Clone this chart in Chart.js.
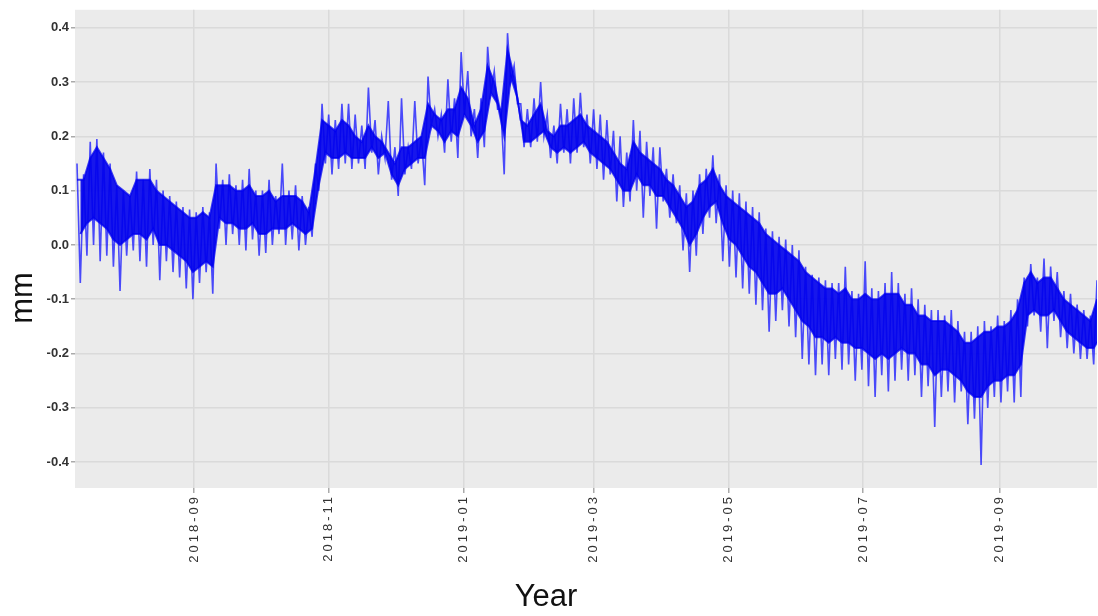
<!DOCTYPE html>
<html>
<head>
<meta charset="utf-8">
<script src="https://cdn.jsdelivr.net/npm/chart.js@4.4.1/dist/chart.umd.min.js"></script>
<style>
  html, body { margin:0; padding:0; background:#fff; }
  #wrap { position:relative; width:1098px; height:616px; }
</style>
</head>
<body>
<div id="wrap"><canvas id="chart" width="1098" height="616"></canvas></div>
<script>
// Una muestra cada 3 días desde la primera fecha
const firstDate = '2018-07-10';
const stepDays = 3;
// picos: máximo y mínimo de cada muestra
const hi = [
  0.15,0.13,0.19,0.195,0.17,0.15,0.11,0.10,0.09,0.135,
  0.12,0.14,0.12,0.10,0.09,0.08,0.07,0.065,0.06,0.07,
  0.06,0.15,0.12,0.13,0.11,0.12,0.14,0.10,0.10,0.12,
  0.09,0.15,0.10,0.11,0.09,0.07,0.15,0.26,0.24,0.23,
  0.26,0.26,0.24,0.22,0.29,0.23,0.20,0.265,0.18,0.27,
  0.18,0.265,0.20,0.31,0.25,0.24,0.305,0.27,0.355,0.32,
  0.25,0.27,0.365,0.32,0.25,0.39,0.33,0.26,0.25,0.27,
  0.30,0.24,0.22,0.26,0.25,0.27,0.28,0.24,0.25,0.24,
  0.23,0.21,0.20,0.17,0.23,0.21,0.19,0.18,0.18,0.14,
  0.13,0.11,0.095,0.10,0.13,0.14,0.165,0.13,0.11,0.10,
  0.095,0.08,0.07,0.06,0.03,0.025,0.015,0.01,0.0,-0.01,
  -0.04,-0.055,-0.06,-0.065,-0.07,-0.07,-0.04,-0.085,-0.09,-0.03,
  -0.08,-0.085,-0.07,-0.05,-0.07,-0.09,-0.08,-0.10,-0.11,-0.12,
  -0.12,-0.13,-0.12,-0.14,-0.16,-0.16,-0.15,-0.14,-0.15,-0.13,
  -0.14,-0.12,-0.10,-0.06,-0.035,-0.06,-0.025,-0.04,-0.05,-0.085,
  -0.09,-0.11,-0.12,-0.13,-0.065,-0.08
];
const lo = [
  -0.07,-0.02,0.00,-0.03,-0.02,-0.04,-0.085,-0.02,-0.01,-0.03,
  -0.04,0.0,-0.065,-0.03,-0.05,-0.06,-0.08,-0.10,-0.07,-0.05,
  -0.09,0.03,0.0,0.02,0.0,-0.01,0.01,-0.02,-0.015,0.0,
  0.02,0.0,0.01,-0.01,0.0,0.015,0.10,0.15,0.13,0.14,
  0.15,0.14,0.15,0.14,0.17,0.13,0.16,0.12,0.09,0.13,
  0.14,0.15,0.11,0.22,0.20,0.17,0.19,0.16,0.24,0.20,
  0.16,0.18,0.28,0.25,0.13,0.30,0.26,0.18,0.18,0.19,
  0.20,0.16,0.15,0.17,0.15,0.17,0.18,0.15,0.14,0.12,
  0.13,0.08,0.07,0.08,0.10,0.05,0.09,0.03,0.08,0.05,
  0.04,-0.01,-0.05,-0.02,0.02,0.05,0.04,-0.03,-0.04,-0.06,
  -0.08,-0.09,-0.11,-0.12,-0.16,-0.14,-0.12,-0.15,-0.17,-0.21,
  -0.22,-0.24,-0.22,-0.24,-0.21,-0.23,-0.22,-0.25,-0.23,-0.26,
  -0.28,-0.24,-0.27,-0.25,-0.23,-0.25,-0.24,-0.28,-0.26,-0.335,
  -0.28,-0.27,-0.29,-0.27,-0.33,-0.32,-0.405,-0.30,-0.28,-0.29,
  -0.27,-0.29,-0.28,-0.15,-0.13,-0.16,-0.19,-0.14,-0.17,-0.19,
  -0.20,-0.21,-0.21,-0.22,-0.18,-0.20
];
// núcleo denso de la señal: borde superior e inferior de cada muestra
const coreHi = [
  0.12,0.12,0.16,0.18,0.16,0.14,0.11,0.10,0.09,0.12,
  0.12,0.12,0.10,0.09,0.08,0.07,0.06,0.05,0.05,0.06,
  0.05,0.11,0.11,0.11,0.10,0.10,0.11,0.09,0.09,0.10,
  0.08,0.09,0.09,0.09,0.08,0.06,0.14,0.23,0.22,0.21,
  0.23,0.22,0.20,0.19,0.22,0.20,0.19,0.17,0.15,0.18,
  0.18,0.19,0.20,0.26,0.24,0.23,0.25,0.25,0.29,0.27,
  0.22,0.25,0.33,0.30,0.24,0.36,0.31,0.23,0.22,0.24,
  0.26,0.21,0.20,0.22,0.22,0.23,0.24,0.22,0.21,0.20,
  0.19,0.17,0.15,0.14,0.19,0.17,0.16,0.15,0.14,0.12,
  0.11,0.09,0.07,0.08,0.11,0.12,0.14,0.11,0.09,0.08,
  0.07,0.06,0.05,0.04,0.02,0.01,0.0,-0.01,-0.02,-0.03,
  -0.05,-0.06,-0.07,-0.08,-0.08,-0.09,-0.08,-0.10,-0.10,-0.09,
  -0.10,-0.10,-0.09,-0.09,-0.09,-0.11,-0.11,-0.13,-0.13,-0.14,
  -0.14,-0.14,-0.15,-0.16,-0.18,-0.18,-0.17,-0.16,-0.16,-0.15,
  -0.15,-0.14,-0.12,-0.07,-0.05,-0.07,-0.06,-0.06,-0.08,-0.10,
  -0.11,-0.12,-0.13,-0.14,-0.10,-0.10
];
const coreLo = [
  0.02,0.04,0.05,0.04,0.03,0.01,0.0,0.01,0.02,0.02,
  0.01,0.03,0.0,0.0,-0.01,-0.02,-0.03,-0.05,-0.04,-0.03,
  -0.04,0.05,0.04,0.04,0.03,0.03,0.04,0.02,0.02,0.03,
  0.03,0.03,0.04,0.03,0.02,0.03,0.11,0.17,0.16,0.16,
  0.17,0.16,0.16,0.16,0.18,0.16,0.17,0.13,0.11,0.14,
  0.15,0.16,0.16,0.22,0.21,0.19,0.21,0.20,0.24,0.22,
  0.19,0.21,0.28,0.26,0.20,0.31,0.27,0.19,0.19,0.20,
  0.21,0.18,0.17,0.18,0.17,0.18,0.19,0.17,0.16,0.15,
  0.14,0.12,0.10,0.10,0.13,0.11,0.11,0.09,0.09,0.07,
  0.05,0.03,0.0,0.02,0.05,0.07,0.08,0.04,0.01,0.0,
  -0.02,-0.04,-0.05,-0.07,-0.09,-0.09,-0.08,-0.10,-0.12,-0.14,
  -0.15,-0.17,-0.17,-0.18,-0.17,-0.18,-0.18,-0.19,-0.19,-0.20,
  -0.21,-0.20,-0.21,-0.20,-0.19,-0.20,-0.20,-0.22,-0.22,-0.24,
  -0.23,-0.23,-0.24,-0.25,-0.27,-0.28,-0.28,-0.26,-0.25,-0.25,
  -0.24,-0.24,-0.22,-0.13,-0.12,-0.13,-0.13,-0.12,-0.14,-0.16,
  -0.17,-0.18,-0.19,-0.19,-0.17,-0.17
];
const tickLabels = ['2018-09','2018-11','2019-01','2019-03','2019-05','2019-07','2019-09'];
const yTicks = [-0.4,-0.3,-0.2,-0.1,0.0,0.1,0.2,0.3,0.4];

// días contados desde 2018-07-01
const dayOf = s => {
  const p = s.split('-').map(Number);
  return (Date.UTC(p[0], p[1]-1, p[2] || 1) - Date.UTC(2018,6,1)) / 86400000;
};
const d0 = dayOf(firstDate);
const spikes = [];
hi.forEach((v,i)=>{
  spikes.push({x: d0 + i*stepDays, y: v});
  spikes.push({x: d0 + i*stepDays + stepDays/2, y: lo[i]});
});
const coreTop = coreHi.map((v,i)=>({x: d0 + i*stepDays, y: v}));
const coreBottom = coreLo.map((v,i)=>({x: d0 + i*stepDays + stepDays/2, y: v}));

const plotBg = {
  id:'plotBg',
  beforeDraw(chart){
    const {ctx, chartArea:a} = chart;
    ctx.save();
    ctx.fillStyle = '#ebebeb';
    ctx.fillRect(a.left, a.top, a.right-a.left, a.bottom-a.top);
    ctx.restore();
    // etiquetas del eje x espaciadas
    const sc = chart.scales.x;
    if (!sc.drawLabels.patched){
      const orig = sc.drawLabels;
      const fn = function(area){
        this.ctx.save();
        this.ctx.letterSpacing = '3px';
        orig.call(this, area);
        this.ctx.restore();
      };
      fn.patched = true;
      sc.drawLabels = fn;
    }
  }
};

const axisTitles = {
  id:'axisTitles',
  afterDraw(chart){
    const ctx = chart.ctx;
    ctx.save();
    ctx.fillStyle = '#111';
    ctx.font = '31px "Liberation Sans", Arial, sans-serif';
    ctx.textAlign = 'center';
    ctx.textBaseline = 'middle';
    ctx.fillText('Year', 546, 597);
    ctx.translate(23, 298);
    ctx.rotate(-Math.PI/2);
    ctx.fillText('mm', 0, 0);
    ctx.restore();
  }
};

new Chart(document.getElementById('chart'), {
  type:'line',
  data:{ datasets:[
    {
      data: spikes,
      borderColor:'rgba(10,10,255,0.72)',
      borderWidth:1.6,
      pointRadius:0,
      tension:0,
      fill:false,
      order:3
    },
    {
      data: coreTop,
      borderColor:'rgba(0,0,240,0.75)',
      borderWidth:2,
      pointRadius:0,
      tension:0,
      fill:false,
      order:1
    },
    {
      data: coreBottom,
      borderColor:'rgba(0,0,240,0.75)',
      borderWidth:2,
      backgroundColor:'rgba(0,0,236,0.9)',
      pointRadius:0,
      tension:0,
      fill:'-1',
      order:2
    }
  ]},
  options:{
    responsive:false,
    animation:false,
    devicePixelRatio:1,
    layout:{ padding:{ top:7, right:1, left:0, bottom:0 } },
    plugins:{ legend:{display:false}, tooltip:{enabled:false} },
    scales:{
      x:{
        type:'linear',
        min:8.1, max:471,
        border:{display:false},
        grid:{ color:'#dadada', lineWidth:1.5, tickLength:5, tickColor:'#aaa' },
        ticks:{
          autoSkip:false, minRotation:90, maxRotation:90, padding:1,
          color:'#333', font:{ family:'"Liberation Sans", Arial, sans-serif', size:13 },
          callback:(v,i)=>tickLabels[i]
        },
        afterBuildTicks: s => { s.ticks = tickLabels.map(t=>({value: dayOf(t)})); },
        afterFit: s => { s.height = 128; }
      },
      y:{
        min:-0.4476, max:0.433,
        border:{display:false},
        grid:{ color:'#dadada', lineWidth:1.5, tickLength:4, tickColor:'#aaa' },
        ticks:{
          padding:2, color:'#333',
          font:{ family:'"Liberation Sans", Arial, sans-serif', size:13, weight:'bold' },
          callback:v=>v.toFixed(1)
        },
        afterBuildTicks: s => { s.ticks = yTicks.map(v=>({value:v})); },
        afterFit: s => { s.width = 75; }
      }
    }
  },
  plugins:[plotBg, axisTitles]
});
</script>
</body>
</html>
